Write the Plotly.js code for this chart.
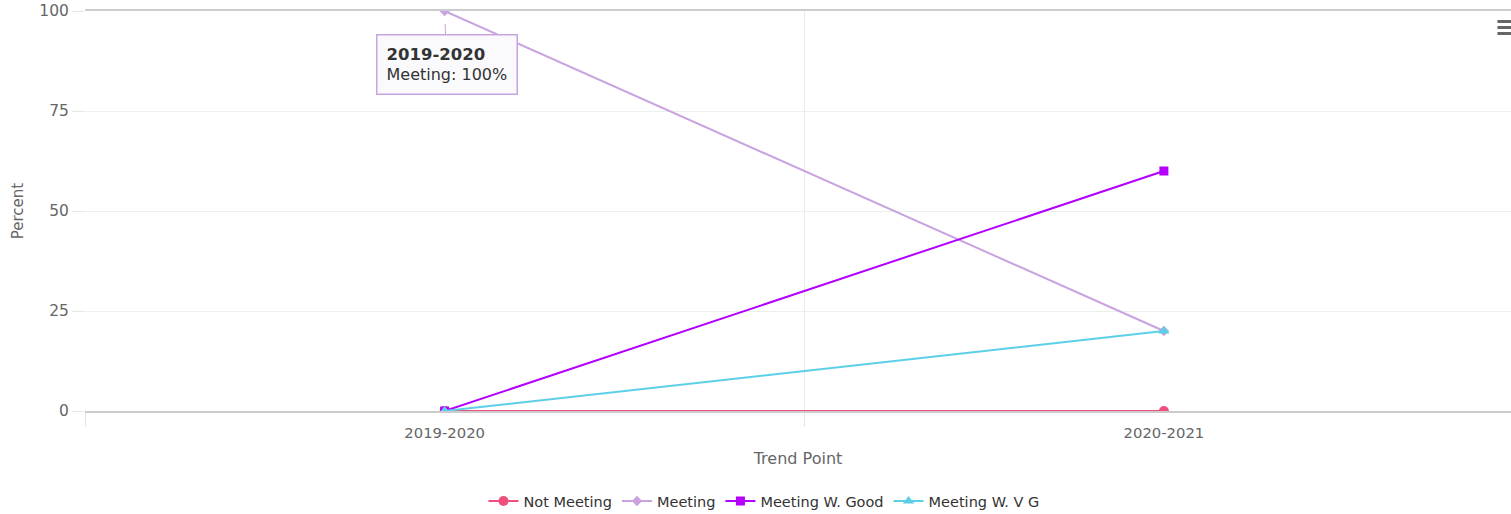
<!DOCTYPE html>
<html>
<head>
<meta charset="utf-8">
<script src="https://cdn.plot.ly/plotly-3.0.1.min.js"></script>
<style>
html,body{margin:0;padding:0;background:#fff;overflow:hidden;}
#chart{width:1511px;height:514px;}
</style>
</head>
<body>
<div id="chart"></div>
<script>
const categories = ["2019-2020", "2020-2021"];
const notMeeting = [0, 0];
const meeting = [100, 20];
const meetingGood = [0, 60];
const meetingVG = [0, 20];
const yTicks = [0, 25, 50, 75, 100];

const seriesDefs = [
  {name: "Not Meeting", y: notMeeting, color: "#ef4f7b", symbol: "circle", size: 10},
  {name: "Meeting", y: meeting, color: "#c9a3e0", symbol: "diamond", size: 8},
  {name: "Meeting W. Good", y: meetingGood, color: "#b300ff", symbol: "square", size: 9},
  {name: "Meeting W. V G", y: meetingVG, color: "#5ccfe6", symbol: "triangle-up", size: 10}
];

const traces = seriesDefs.map(s => ({
  type: "scatter",
  mode: "lines+markers",
  name: s.name,
  x: categories,
  y: s.y,
  line: {color: s.color, width: 2},
  marker: {color: s.color, symbol: s.symbol, size: s.size},
  hoverinfo: "skip"
}));

const FAM = "DejaVu Sans, Verdana, sans-serif";

const layout = {
  width: 1511,
  height: 514,
  margin: {l: 85, r: 0, t: 11, b: 103},
  paper_bgcolor: "#ffffff",
  plot_bgcolor: "#ffffff",
  font: {family: FAM, size: 14, color: "#666666"},
  showlegend: true,
  legend: {
    orientation: "h",
    xref: "container", yref: "container",
    x: 0.5056, xanchor: "center",
    y: 0.025, yanchor: "middle",
    font: {family: FAM, size: 14.5, color: "#333333"},
    itemwidth: 30,
    tracegroupgap: 0
  },
  xaxis: {
    type: "category",
    range: [-0.5, 1.4826],
    tickson: "boundaries",
    ticks: "outside",
    ticklen: 14,
    tickcolor: "#dfe6df",
    ticklabelstandoff: 7,
    showgrid: true,
    gridcolor: "#e8eee8",
    gridwidth: 1,
    showline: true,
    linecolor: "#cccccc",
    linewidth: 2,
    mirror: true,
    zeroline: false,
    tickfont: {family: FAM, size: 14.8, color: "#666666"},
    title: {text: "Trend Point", standoff: 13, font: {family: FAM, size: 16, color: "#666666"}},
    automargin: false,
    fixedrange: true
  },
  yaxis: {
    range: [0, 100],
    tickvals: yTicks,
    ticktext: yTicks.map(String),
    ticks: "outside",
    ticklen: 12,
    tickcolor: "#e2e8e2",
    showgrid: true,
    gridcolor: "#eaf0ea",
    zeroline: false,
    showline: false,
    tickfont: {family: FAM, size: 15.5, color: "#666666"},
    title: {text: "Percent", standoff: 12, font: {family: FAM, size: 15, color: "#666666"}},
    automargin: false,
    fixedrange: true
  },
  shapes: [
    {type: "rect", xref: "paper", yref: "paper", x0: 0.9905, x1: 1.0, y0: 0.9775, y1: 0.97, fillcolor: "#666666", line: {width: 0}},
    {type: "rect", xref: "paper", yref: "paper", x0: 0.9905, x1: 1.0, y0: 0.9625, y1: 0.955, fillcolor: "#666666", line: {width: 0}},
    {type: "rect", xref: "paper", yref: "paper", x0: 0.9905, x1: 1.0, y0: 0.9475, y1: 0.94, fillcolor: "#666666", line: {width: 0}}
  ],
  annotations: [
    {
      x: categories[0], y: meeting[0], xref: "x", yref: "y",
      text: "<span style='font-size:16.5px'><b>" + categories[0] + "</b></span><br>" + seriesDefs[1].name + ": " + meeting[0] + "%",
      align: "left",
      showarrow: true, arrowhead: 0, arrowwidth: 1, arrowcolor: "#c9a3e0",
      ax: 2, ay: 53, standoff: 13,
      bgcolor: "rgba(250,250,252,0.96)",
      bordercolor: "#c9a3e0", borderwidth: 1.5, borderpad: 9,
      font: {family: FAM, size: 16, color: "#333333"}
    }
  ]
};

Plotly.newPlot("chart", traces, layout, {displayModeBar: false, staticPlot: true});
</script>
</body>
</html>
